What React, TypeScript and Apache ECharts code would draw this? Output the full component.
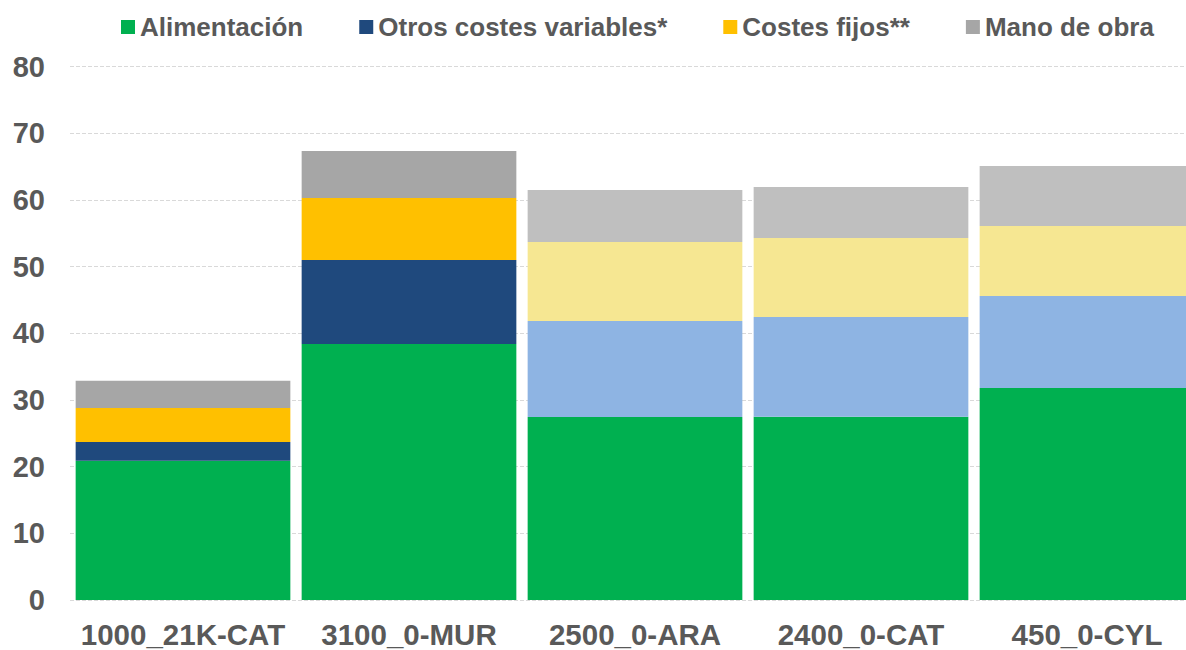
import React, { useEffect, useRef } from "react";
import * as echarts from "echarts";

const categories = ["1000_21K-CAT", "3100_0-MUR", "2500_0-ARA", "2400_0-CAT", "450_0-CYL"];
const seriesNames = ["Alimentación", "Otros costes variables*", "Costes fijos**", "Mano de obra"];
const alimentacion = [20.9, 38.4, 27.45, 27.5, 31.8];
const otrosVariables = [2.8, 12.6, 14.4, 14.95, 13.8];
const costesFijos = [5.1, 9.3, 11.85, 11.85, 10.5];
const manoObra = [4.1, 7.05, 7.8, 7.65, 9.0];
const yTicks = [0, 10, 20, 30, 40, 50, 60, 70, 80];

const darkColors = ["#00B050", "#1F497D", "#FFC000", "#A6A6A6"];
const lightColors = ["#00B050", "#8EB4E3", "#F6E792", "#BFBFBF"];
const lightFromIndex = 2;

export default function App() {
  const ref = useRef<HTMLDivElement>(null);
  useEffect(() => {
    document.body.style.margin = "0";
    document.body.style.overflow = "hidden";
    if (!ref.current) return;
    const chart = echarts.init(ref.current, undefined, { renderer: "svg" });
    const values = [alimentacion, otrosVariables, costesFijos, manoObra];
    const font = "'Liberation Sans', Arial, sans-serif";
    chart.setOption({
      animation: false,
      legend: {
        top: 9,
        left: 116,
        itemWidth: 14,
        itemHeight: 14,
        itemGap: 56,
        icon: "rect",
        textStyle: { fontFamily: font, fontSize: 26, fontWeight: "bold", color: "#595959" },
        data: seriesNames,
      },
      grid: { left: 70, top: 66.7, width: 1130, bottom: 50, containLabel: false },
      xAxis: {
        type: "category",
        data: categories,
        axisLine: { show: false },
        axisTick: { show: false },
        axisLabel: { interval: 0, fontFamily: font, fontSize: 29.5, fontWeight: "bold", color: "#595959", margin: 19 },
      },
      yAxis: {
        type: "value",
        min: yTicks[0],
        max: yTicks[yTicks.length - 1],
        interval: 10,
        axisLine: { show: false },
        axisTick: { show: false },
        axisLabel: { fontFamily: font, fontSize: 29, fontWeight: "bold", color: "#595959", margin: 25 },
        splitLine: { lineStyle: { color: "#D9D9D9", type: "dashed", width: 1 } },
      },
      series: values.map((vals, si) => ({
        name: seriesNames[si],
        type: "bar",
        stack: "total",
        barCategoryGap: "5%",
        itemStyle: { color: darkColors[si] },
        data: vals.map((v, ci) => ({
          value: v,
          itemStyle: { color: ci >= lightFromIndex ? lightColors[si] : darkColors[si] },
        })),
      })),
    });
    return () => chart.dispose();
  }, []);
  return (
    <div style={{ width: 1186, height: 650, overflow: "hidden", position: "relative" }}>
      <div ref={ref} style={{ width: 1200, height: 650 }} />
    </div>
  );
}
